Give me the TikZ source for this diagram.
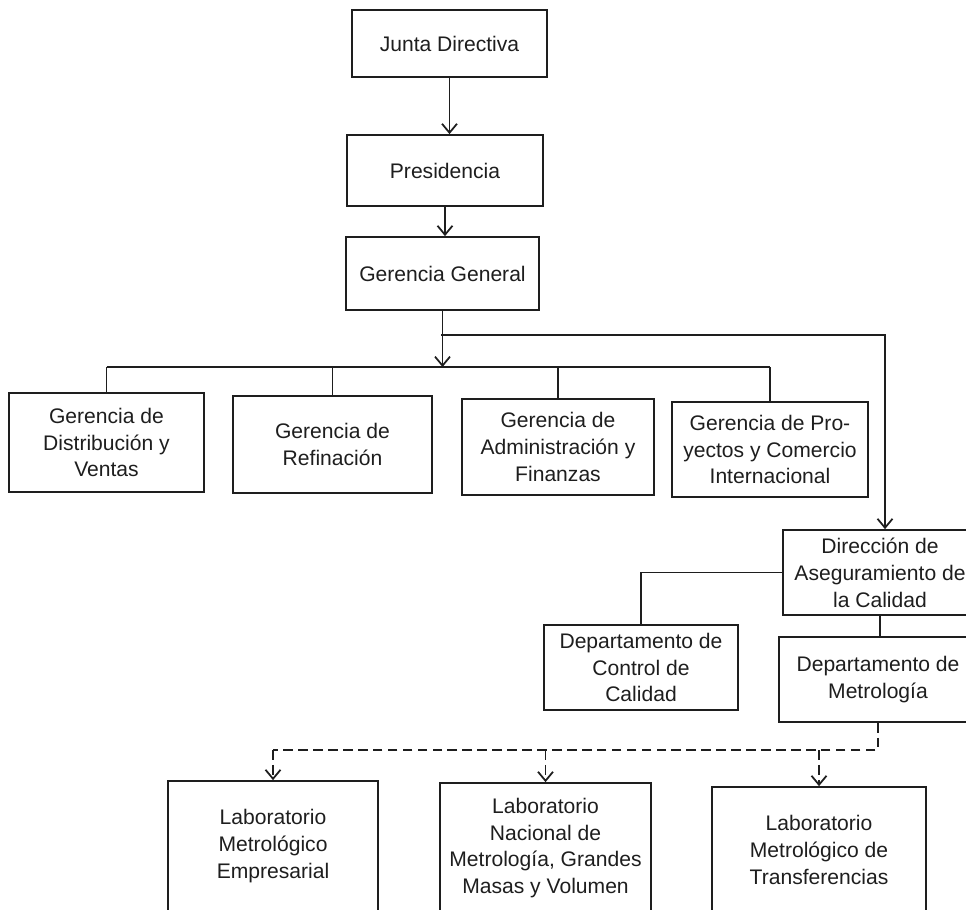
\documentclass[tikz,border=0pt]{standalone}
\usepackage{fontspec}
\setmainfont{Liberation Sans}
\usetikzlibrary{arrows.meta}
\definecolor{ink}{RGB}{30,30,30}
\tikzset{
  box/.style={draw, line width=1pt, align=center, inner sep=0pt, font=\fontsize{12}{15.3}\selectfont},
  dashline/.style={dash pattern=on 5.5pt off 3pt},
}
\begin{document}
\begin{tikzpicture}[>={Straight Barb[length=1.8mm,width=3mm]}, x=0.02cm, y=-0.02cm, color=ink, line width=1pt]
\useasboundingbox (0,0) rectangle (966,909);
\clip (0,0) rectangle (966,909);

\node[box, minimum width=3.9cm, minimum height=1.34cm] (junta) at (449.5,43.5) {Junta Directiva};
\node[box, minimum width=3.92cm, minimum height=1.42cm] (pres) at (445,170.5) {Presidencia};
\node[box, minimum width=3.86cm, minimum height=1.46cm] (gerg) at (442.5,273.5) {Gerencia General};

\node[box, minimum width=3.9cm, minimum height=1.98cm] (distv) at (106.5,442.5) {Gerencia de\\Distribución y\\Ventas};
\node[box, minimum width=3.98cm, minimum height=1.94cm] (refin) at (332.5,444.5) {Gerencia de\\Refinación};
\node[box, minimum width=3.84cm, minimum height=1.92cm] (admin) at (558,447) {Gerencia de\\Administración y\\Finanzas};
\node[box, minimum width=3.92cm, minimum height=1.9cm] (proy) at (770,449.5) {Gerencia de Pro-\\yectos y Comercio\\Internacional};

\node[box, minimum width=3.88cm, minimum height=1.7cm] (dir) at (880,572.5) {Dirección de\\Aseguramiento de\\la Calidad};
\node[box, minimum width=3.88cm, minimum height=1.7cm] (ctl) at (641,667.5) {Departamento de\\Control de\\Calidad};
\node[box, minimum width=3.96cm, minimum height=1.7cm] (met) at (878,679.5) {Departamento de\\Metrología};

\node[box, minimum width=4.2cm, minimum height=2.6cm] (emp) at (273,846) {Laboratorio\\Metrológico\\Empresarial};
\node[box, minimum width=4.22cm, minimum height=2.6cm] (nac) at (545.5,848) {Laboratorio\\Nacional de\\Metrología, Grandes\\Masas y Volumen};
\node[box, minimum width=4.28cm, minimum height=2.52cm] (tra) at (819,850) {Laboratorio\\Metrológico de\\Transferencias};

\coordinate (bus) at (441,367);
\coordinate (turn) at (441,335);
\coordinate (dbus) at (876,750);

\draw[->] (junta.south) -- (junta.south |- pres.north);
\draw[->] (pres.south) -- (pres.south |- gerg.north);
\draw[->] (gerg.south) -- (gerg.south |- bus);
\draw (distv.north |- bus) -- (proy.north |- bus);
\foreach \n in {distv,refin,admin,proy}
{
  \draw (\n.north |- bus) -- (\n.north);
}
\draw[->] (turn) -| ([xshift=0.1cm]dir.north);

\draw (dir.west) -| (ctl.north);
\draw (dir.south) -- (dir.south |- met.north);

\draw[dashline] (met.south) |- (emp.north |- dbus);
\foreach \n in {emp,nac,tra}
{
  \draw[dashline, ->] (\n.north |- dbus) -- (\n.north);
}
\end{tikzpicture}
\end{document}
